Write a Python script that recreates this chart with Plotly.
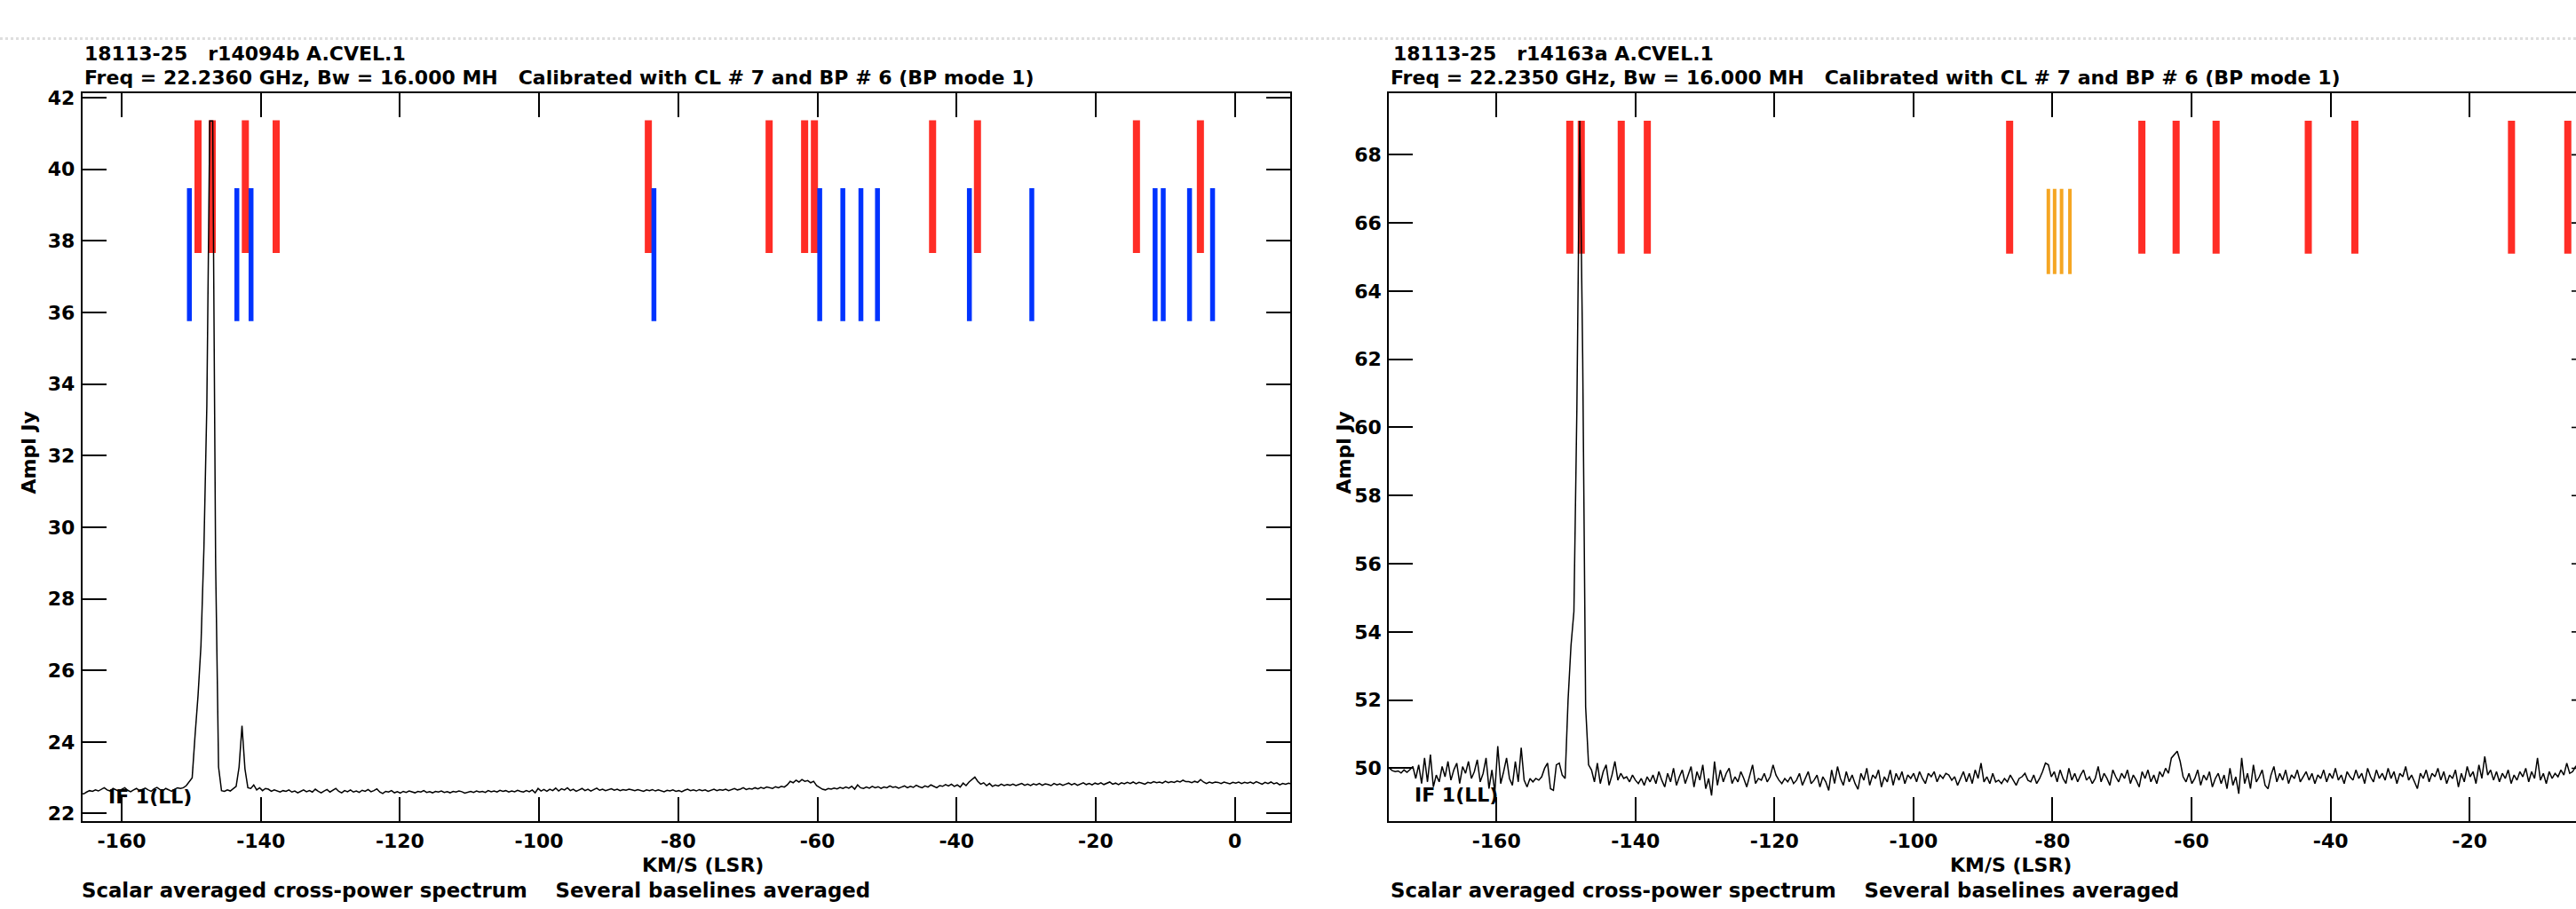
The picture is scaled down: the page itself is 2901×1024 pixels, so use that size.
import plotly.graph_objects as go

# ---------------- data ----------------
CHAN_STEP = 0.4213            # km/s per channel
LEFT_START = -165.87          # velocity of first plotted channel (left panel)
RIGHT_START = -175.81         # velocity of first plotted channel (right panel)

LEFT_AMPL = [
    22.56, 22.55, 22.60, 22.64, 22.62, 22.66, 22.63, 22.68, 22.72, 22.66,
    22.63, 22.70, 22.66, 22.62, 22.68, 22.72, 22.65, 22.61, 22.66, 22.70,
    22.64, 22.67, 22.71, 22.66, 22.62, 22.69, 22.73, 22.67, 22.64, 22.70,
    22.66, 22.62, 22.68, 22.72, 22.70, 22.72, 22.78,
    22.90, 23.00, 24.20, 25.30, 26.70, 29.40, 33.40, 41.35, 41.35, 29.00, 23.30, 22.64,
    22.62, 22.66, 22.63, 22.70, 22.76, 23.30, 24.45, 23.25, 22.72,
    22.70, 22.80, 22.66, 22.72, 22.64, 22.70, 22.68, 22.62, 22.66, 22.63,
    22.60, 22.64, 22.62, 22.66, 22.60, 22.63, 22.58, 22.62, 22.66, 22.61,
    22.64, 22.60, 22.68, 22.62, 22.58, 22.63, 22.67, 22.60, 22.64, 22.70,
    22.62, 22.58, 22.64, 22.61, 22.66, 22.60, 22.63, 22.59, 22.65, 22.62,
    22.67, 22.61, 22.64, 22.69, 22.60, 22.56, 22.62, 22.60, 22.64, 22.58,
    22.61, 22.57, 22.62, 22.59, 22.63, 22.60, 22.58, 22.62, 22.60, 22.64,
    22.59, 22.61, 22.58, 22.62, 22.60, 22.63, 22.59, 22.61, 22.58, 22.62,
    22.60, 22.63, 22.61, 22.57, 22.60, 22.62, 22.59, 22.63, 22.60, 22.62,
    22.59, 22.64, 22.61, 22.63, 22.60, 22.65, 22.62, 22.64, 22.60, 22.63,
    22.61, 22.65, 22.62, 22.60, 22.64, 22.61, 22.66, 22.58, 22.70, 22.63,
    22.67, 22.62, 22.68, 22.64, 22.71, 22.63, 22.69, 22.66, 22.72, 22.64,
    22.68, 22.62, 22.66, 22.70, 22.64, 22.68, 22.63, 22.67, 22.71, 22.65,
    22.68, 22.64, 22.66, 22.69, 22.65, 22.68, 22.64, 22.67, 22.65, 22.68,
    22.66, 22.64, 22.67, 22.65, 22.62, 22.66, 22.64, 22.67, 22.63, 22.66,
    22.64, 22.61, 22.65, 22.63, 22.66, 22.62, 22.64, 22.61, 22.65, 22.68,
    22.64, 22.66, 22.63, 22.67, 22.64, 22.66, 22.62, 22.65, 22.68, 22.64,
    22.67, 22.65, 22.68, 22.64, 22.67, 22.70, 22.66, 22.68, 22.72, 22.67,
    22.70, 22.68, 22.72, 22.69, 22.73, 22.70, 22.74, 22.72, 22.70, 22.75,
    22.72, 22.76, 22.74, 22.80, 22.90, 22.86, 22.93, 22.88, 22.95, 22.90,
    22.92, 22.86, 22.90, 22.78, 22.72, 22.68, 22.66, 22.70, 22.68, 22.71,
    22.69, 22.73, 22.70, 22.74, 22.71, 22.76, 22.68, 22.80, 22.72, 22.70,
    22.74, 22.71, 22.76, 22.72, 22.75, 22.70, 22.74, 22.72, 22.77, 22.73,
    22.75, 22.71, 22.74, 22.77, 22.72, 22.76, 22.73, 22.79, 22.75, 22.72,
    22.77, 22.74, 22.80, 22.75, 22.72, 22.78, 22.76, 22.81, 22.77, 22.82,
    22.76, 22.80, 22.74, 22.85, 22.78, 22.88, 22.95, 23.02, 22.90, 22.82,
    22.86, 22.78, 22.84, 22.76, 22.80, 22.77, 22.82, 22.78, 22.81, 22.79,
    22.82, 22.78, 22.81, 22.84, 22.79, 22.82, 22.78, 22.83, 22.80, 22.84,
    22.79, 22.83, 22.81, 22.78, 22.84, 22.80, 22.83, 22.79, 22.82, 22.85,
    22.80, 22.84, 22.79, 22.83, 22.86, 22.81, 22.84, 22.80, 22.85, 22.82,
    22.86, 22.81, 22.84, 22.88, 22.82, 22.85, 22.81, 22.86, 22.83, 22.87,
    22.84, 22.88, 22.83, 22.87, 22.85, 22.82, 22.87, 22.85, 22.89, 22.86,
    22.88, 22.85, 22.90, 22.86, 22.89, 22.87, 22.91, 22.88, 22.93, 22.89,
    22.89, 22.86, 22.90, 22.87, 22.95, 22.88, 22.84, 22.88, 22.85, 22.88,
    22.87, 22.84, 22.88, 22.86, 22.83, 22.87, 22.85, 22.88, 22.84, 22.87,
    22.85, 22.88, 22.84, 22.89, 22.85, 22.82, 22.87, 22.84, 22.88, 22.83,
    22.86, 22.80, 22.84, 22.82, 22.85, 22.83,
]

RIGHT_AMPL = [
    50.02, 50.00, 49.93, 49.90, 49.92, 49.86, 49.95, 49.88, 49.96, 50.05,
    49.70, 50.10, 49.55, 50.30, 49.60, 50.40, 49.45, 49.80, 49.60, 50.05,
    49.75, 50.20, 49.65, 49.95, 50.15, 49.55, 50.05, 49.85, 50.20, 49.70,
    49.90, 50.25, 49.60, 49.85, 50.30, 49.40, 49.95, 49.30, 50.65, 49.55,
    49.90, 50.30, 49.70, 49.50, 50.20, 49.60, 50.60, 49.65, 49.45, 49.70,
    49.60, 49.70, 49.65, 49.75, 50.00, 50.15, 49.40, 49.35, 50.10, 50.15,
    49.80,
    49.70, 52.00, 53.60, 54.60, 60.50, 69.00, 62.00, 51.80, 50.10,
    49.95, 49.60, 50.15, 49.55, 49.90, 50.10, 49.50, 49.80, 50.20, 49.65,
    49.85, 49.70, 49.75, 49.60, 49.80, 49.65, 49.55, 49.70, 49.50, 49.75,
    49.60, 49.80, 49.55, 49.90, 49.65, 49.45, 49.85, 49.60, 50.00, 49.50,
    49.75, 49.95, 49.55, 49.80, 50.05, 49.45, 49.90, 49.65, 50.10, 49.40,
    49.70, 49.20, 50.20, 49.50, 49.95, 49.60, 49.85, 50.00, 49.55, 49.75,
    49.60, 49.90, 49.70, 49.45, 49.80, 50.10, 49.55, 49.70, 49.65, 49.85,
    49.60, 49.75, 50.10, 49.80, 49.65, 49.55, 49.70, 49.60, 49.75, 49.55,
    49.65, 49.85, 49.50, 49.70, 49.90, 49.55, 49.65, 49.80, 49.45, 49.75,
    49.60, 49.35, 49.95, 49.55, 50.05, 49.70, 49.50, 49.90, 49.60, 49.80,
    49.55, 49.38, 49.85, 49.65, 50.00, 49.50, 49.80, 49.70, 49.95, 49.45,
    49.75, 49.60, 49.95, 49.50, 49.85, 49.65, 49.90, 49.55, 49.80, 49.70,
    49.85, 49.60, 49.90, 49.70, 49.55, 49.85, 49.75, 49.90, 49.60, 49.80,
    49.70, 49.85, 49.80, 49.65, 49.75, 49.50, 49.70, 49.90, 49.60, 49.85,
    49.55, 49.95, 49.70, 50.15, 49.60, 49.75, 49.55, 49.85, 49.60, 49.65,
    49.55, 49.70, 49.60, 49.80, 49.65, 49.50, 49.70, 49.75, 49.85, 49.65,
    49.60, 49.80, 49.55, 49.70, 49.90, 50.15, 50.10, 49.75, 49.90, 49.60,
    49.95, 49.70, 49.55, 50.00, 49.65, 49.85, 49.60, 49.80, 49.95, 49.65,
    49.75, 49.55, 49.70, 50.05, 49.60, 49.85, 49.70, 49.50, 49.95, 49.75,
    49.60, 49.85, 49.70, 49.95, 49.55, 49.80, 49.65, 49.45, 49.90, 49.70,
    49.95, 49.60, 49.80, 49.55, 49.90, 49.75, 50.00, 49.85, 50.30, 50.40,
    50.50, 50.20, 49.75, 49.60, 49.85, 49.55, 49.70, 49.95, 49.50, 49.80,
    49.65, 49.90, 49.45, 49.70, 49.85, 49.55, 49.80, 49.40, 50.00, 49.50,
    49.75, 49.25, 50.30, 49.55, 49.85, 49.40, 50.10, 49.60, 49.75, 49.95,
    49.50, 49.40, 49.80, 50.05, 49.60, 49.85, 49.65, 49.95, 49.55, 49.80,
    49.70, 49.95, 49.60, 49.75, 49.90, 49.65, 49.85, 49.55, 49.80, 49.70,
    49.95, 49.60, 49.85, 49.70, 50.00, 49.65, 49.80, 49.55, 49.90, 49.75,
    49.65, 49.95, 49.70, 49.85, 49.55, 50.00, 49.75, 49.60, 49.95, 49.70,
    49.85, 49.65, 50.00, 49.70, 49.90, 49.55, 49.85, 49.75, 50.05, 49.65,
    49.80, 49.60, 49.40, 49.85, 49.70, 49.95, 49.60, 49.85, 49.75, 50.00,
    49.65, 49.90, 49.55, 49.80, 49.70, 49.95, 49.45, 49.85, 49.60, 50.05,
    49.75, 49.90, 49.55, 50.10, 49.70, 50.35, 49.80, 49.95, 49.65, 49.90,
    49.60, 49.85, 49.70, 49.95, 49.55, 49.80, 49.65, 49.90, 49.75, 50.00,
    49.60, 49.90, 49.70, 50.30, 49.65, 49.85, 49.55, 49.90, 49.70, 49.85,
    49.75, 49.95, 49.80, 50.15, 49.85, 49.90, 50.05, 50.10,
]

# flagged-velocity markers
LEFT_RED_VEL = [-149.02, -146.98, -142.22, -137.79, -84.30, -66.94, -61.84,
                -60.43, -43.45, -37.00, -14.15, -4.96]
LEFT_RED_SPAN = [37.66, 41.37]
LEFT_BLUE_VEL = [-150.26, -143.44, -141.40, -83.50, -59.67, -56.35, -53.75,
                 -51.37, -38.16, -29.19, -11.47, -10.30, -6.52, -3.21]
LEFT_BLUE_SPAN = [35.76, 39.47]
RIGHT_RED_VEL = [-149.44, -147.79, -142.04, -138.29, -86.17, -67.15, -62.22,
                 -56.47, -43.21, -36.51, -13.98, -5.88]
RIGHT_RED_SPAN = [65.10, 69.00]
RIGHT_ORANGE_VEL = [-80.6, -79.7, -78.7, -77.5]
RIGHT_ORANGE_SPAN = [64.50, 67.00]

LEFT_YTICKS = [22, 24, 26, 28, 30, 32, 34, 36, 38, 40, 42]
RIGHT_YTICKS = [50, 52, 54, 56, 58, 60, 62, 64, 66, 68]
LEFT_XTICKS = [-160, -140, -120, -100, -80, -60, -40, -20, 0]
LEFT_XTICK_TEXT = ["-160", "-140", "-120", "-100", "-80", "-60", "-40", "-20", "0"]
RIGHT_XTICKS = [-160, -140, -120, -100, -80, -60, -40, -20]
RIGHT_XTICK_TEXT = ["-160", "-140", "-120", "-100", "-80", "-60", "-40", "-20"]

LEFT_TITLE = ["18113-25   r14094b A.CVEL.1",
              "Freq = 22.2360 GHz, Bw = 16.000 MH   Calibrated with CL # 7 and BP # 6 (BP mode 1)"]
RIGHT_TITLE = ["18113-25   r14163a A.CVEL.1",
               "Freq = 22.2350 GHz, Bw = 16.000 MH   Calibrated with CL # 7 and BP # 6 (BP mode 1)"]
FOOTER = "Scalar averaged cross-power spectrum    Several baselines averaged"
XLABEL = "KM/S (LSR)"
YLABEL = "Ampl Jy"
IF_LABEL = "IF 1(LL)"

# ---------------- figure ----------------
W, H = 2901, 1024
FONT = "DejaVu Sans"
RED = "rgb(255,45,38)"
BLUE = "rgb(0,51,255)"
ORANGE = "rgb(245,166,35)"


def vel_axis(start, n):
    return [start + CHAN_STEP * i for i in range(n)]


def bars(vels, span):
    xs, ys = [], []
    for v in vels:
        xs += [v, v, None]
        ys += [span[0], span[1], None]
    return xs, ys


def nb(s):
    return s.replace(" ", "\u00a0")


fig = go.Figure()

# left panel
for vels, span, col, wid in [(LEFT_RED_VEL, LEFT_RED_SPAN, RED, 8),
                             (LEFT_BLUE_VEL, LEFT_BLUE_SPAN, BLUE, 5.5)]:
    bx, by = bars(vels, span)
    fig.add_trace(go.Scatter(x=bx, y=by, mode="lines", line=dict(color=col, width=wid),
                             xaxis="x", yaxis="y", hoverinfo="skip"))
fig.add_trace(go.Scatter(x=vel_axis(LEFT_START, len(LEFT_AMPL)), y=LEFT_AMPL, mode="lines",
                         line=dict(color="black", width=1.5), xaxis="x", yaxis="y"))

# right panel
for vels, span, col, wid in [(RIGHT_RED_VEL, RIGHT_RED_SPAN, RED, 8),
                             (RIGHT_ORANGE_VEL, RIGHT_ORANGE_SPAN, ORANGE, 4)]:
    bx, by = bars(vels, span)
    fig.add_trace(go.Scatter(x=bx, y=by, mode="lines", line=dict(color=col, width=wid),
                             xaxis="x2", yaxis="y2", hoverinfo="skip"))
fig.add_trace(go.Scatter(x=vel_axis(RIGHT_START, len(RIGHT_AMPL)), y=RIGHT_AMPL, mode="lines",
                         line=dict(color="black", width=1.5), xaxis="x2", yaxis="y2"))

ydom = [(H - 928.3) / H, (H - 99.3) / H]
tickfont = dict(family=FONT, size=22, color="black", weight="bold")
common = dict(showgrid=False, zeroline=False, showline=True, linewidth=2, linecolor="black",
              ticks="inside", ticklen=27, tickwidth=1.6, tickcolor="black", tickfont=tickfont)

fig.update_layout(
    width=W, height=H, margin=dict(l=0, r=0, t=0, b=0),
    paper_bgcolor="white", plot_bgcolor="white", showlegend=False,
    xaxis=dict(domain=[92.7 / W, 1453 / W], range=[-165.65, 7.95], tickvals=LEFT_XTICKS,
               ticktext=LEFT_XTICK_TEXT, anchor="y", mirror="ticks", ticklabelstandoff=1, **common),
    yaxis=dict(domain=ydom, range=[21.78, 42.12], tickvals=LEFT_YTICKS,
               anchor="x", mirror="ticks", ticklabelstandoff=2, **common),
    xaxis2=dict(domain=[1564.3 / W, 1.0], range=[-175.44, -4.70], tickvals=RIGHT_XTICKS,
                ticktext=RIGHT_XTICK_TEXT, anchor="y2", mirror="ticks", ticklabelstandoff=1, **common),
    yaxis2=dict(domain=ydom, range=[48.44, 69.80], tickvals=RIGHT_YTICKS,
                anchor="x2", mirror=False, ticklabelstandoff=2, **common),
)

# stubs of the right panel's far-side ticks peeking in at the page edge
for yt in RIGHT_YTICKS:
    fig.add_shape(type="line", xref="paper", yref="y2", x0=2896 / W, x1=1.0, y0=yt, y1=yt,
                  line=dict(color="black", width=1.6))


def px_ann(text, x, y, size=22, xanchor="left", angle=0):
    fig.add_annotation(text=nb(text), x=x / W, y=1 - y / H, xref="paper", yref="paper",
                       xanchor=xanchor, yanchor="middle", showarrow=False, textangle=angle,
                       font=dict(family=FONT, size=size, color="black", weight="bold"))


px_ann(LEFT_TITLE[0], 93, 54)
px_ann(LEFT_TITLE[1], 93, 81)
px_ann(RIGHT_TITLE[0], 1567, 54)
px_ann(RIGHT_TITLE[1], 1564, 81)
px_ann(XLABEL, 791, 978, xanchor="center")
px_ann(XLABEL, 2264, 978, xanchor="center")
px_ann(FOOTER, 90, 1007, size=22.8)
px_ann(FOOTER, 1564, 1007, size=22.8)
px_ann(YLABEL, 33, 509, xanchor="center", angle=-90)
px_ann(YLABEL, 1514, 509, xanchor="center", angle=-90)
px_ann(IF_LABEL, 120, 900)
px_ann(IF_LABEL, 1591, 898)

# faint scan line near the top of the page
fig.add_shape(type="line", xref="paper", yref="paper", x0=0, x1=1,
              y0=1 - 37 / H, y1=1 - 37 / H,
              line=dict(color="rgba(160,160,160,0.35)", width=3, dash="dot"))

fig.write_html("out.html", config={"displayModeBar": False},
               post_script="document.body.style.margin='0';document.body.style.overflow='hidden';")
